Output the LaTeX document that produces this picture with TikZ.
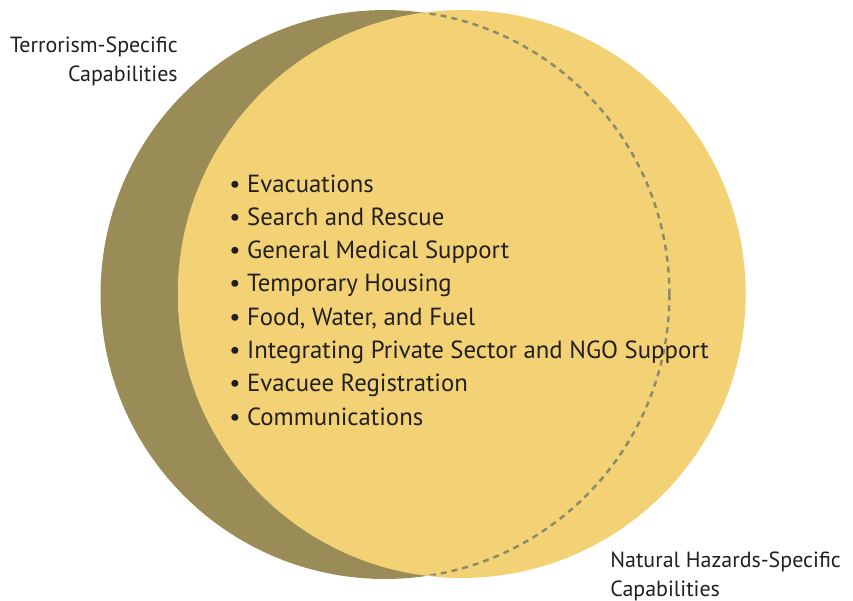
\documentclass[tikz,border=0pt]{standalone}
\usepackage{fontspec}
\setmainfont{PT Sans}
\definecolor{terrfill}{HTML}{9A8C57}
\definecolor{natfill}{HTML}{F2D274}
\definecolor{seamcol}{HTML}{8C8A6C}
\definecolor{inkcol}{HTML}{231F20}
\tikzset{
  itemtxt/.style={anchor=base west, inner sep=0pt, text=inkcol, font=\fontsize{14.1}{17}\selectfont},
  sidetxt/.style={inner sep=0pt, text=inkcol, font=\fontsize{12.5}{15}\selectfont}
}
\begin{document}
\begin{tikzpicture}[x=0.02cm,y=-0.02cm]
\useasboundingbox (0,0) rectangle (853,600);
\fill[terrfill] (385,294.5) circle [radius=5.69cm];
\fill[natfill] (461.7,294) circle [radius=5.68cm];
% seam of the terrorism circle, only over the yellow one
\begin{scope}
\clip (461.7,294) circle [radius=5.66cm];
\draw[seamcol, line width=1.4pt, dash pattern=on 0.12cm off 0.1cm] (385,294.5) circle [radius=5.69cm];
\end{scope}
\node[sidetxt, anchor=base east] (terr1) at (178,52) {Terrorism-Specific};
\node[sidetxt, anchor=base east] (terr2) at (178,81) {Capabilities};
\node[sidetxt, anchor=base west] (nat1) at (610,567) {Natural Hazards-Specific};
\node[sidetxt, anchor=base west] (nat2) at (610,596) {Capabilities};
\foreach \txt [count=\i] in {Evacuations, Search and Rescue, General Medical Support, Temporary Housing, {Food, Water, and Fuel}, Integrating Private Sector and NGO Support, Evacuee Registration, Communications}
  \node[itemtxt] (item\i) at (229,{192+33.3*(\i-1)}) {\textbullet\ \txt};
\end{tikzpicture}
\end{document}
